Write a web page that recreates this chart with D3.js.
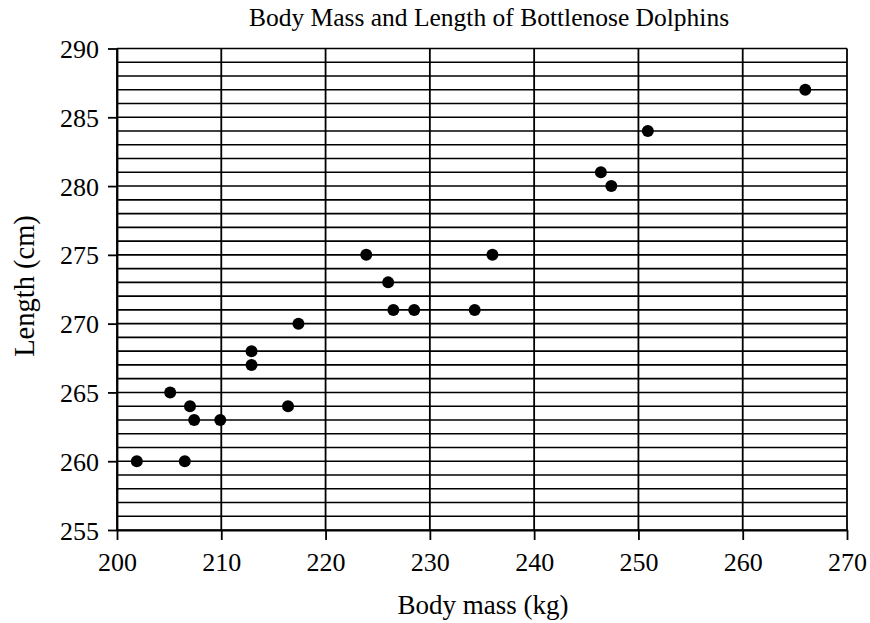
<!DOCTYPE html>
<html>
<head>
<meta charset="utf-8">
<script src="https://cdn.jsdelivr.net/npm/d3@7"></script>
<style>
  html, body { margin: 0; padding: 0; background: #fff; }
  svg { display: block; }
  text { font-family: "Liberation Serif", "DejaVu Serif", serif; fill: #000; }
</style>
</head>
<body>
<svg id="chart" width="870" height="623"></svg>
<script>
// Body mass (kg) and length (cm) of each dolphin
const massKg = [201.9, 206.5, 205.1, 207.0, 207.4, 209.9, 212.9, 212.9, 216.4, 217.4,
                223.9, 226.0, 226.5, 228.5, 234.3, 236.0, 246.4, 247.4, 250.9, 266.0];
const lengthCm = [260, 260, 265, 264, 263, 263, 268, 267, 264, 270,
                  275, 273, 271, 271, 271, 275, 281, 280, 284, 287];
const xTicks = [200, 210, 220, 230, 240, 250, 260, 270];
const yTicks = [255, 260, 265, 270, 275, 280, 285, 290];

const svg = d3.select("#chart");
const plot = { left: 117, right: 847, top: 48.5, bottom: 530 };
const serif = "'Liberation Serif', 'DejaVu Serif', serif";

const x = d3.scaleLinear().domain([200, 270]).range([plot.left, plot.right]);
const y = d3.scaleLinear().domain([255, 290]).range([plot.bottom, plot.top]);

// Horizontal grid: one line per centimetre
svg.append("g").selectAll("line")
  .data(d3.range(255, 291, 1))
  .join("line")
  .attr("x1", plot.left).attr("x2", plot.right)
  .attr("y1", d => y(d)).attr("y2", d => y(d))
  .attr("stroke", "#000").attr("stroke-width", 1.6);

// Vertical grid: one line per 10 kg
svg.append("g").selectAll("line")
  .data(xTicks)
  .join("line")
  .attr("x1", d => x(d)).attr("x2", d => x(d))
  .attr("y1", plot.top).attr("y2", plot.bottom)
  .attr("stroke", "#000").attr("stroke-width", 1.8);

// Axes with outward ticks
const xAxis = svg.append("g")
  .attr("transform", `translate(0,${plot.bottom})`)
  .call(d3.axisBottom(x).tickValues(xTicks).tickSize(10).tickPadding(13).tickSizeOuter(0));
const yAxis = svg.append("g")
  .attr("transform", `translate(${plot.left},0)`)
  .call(d3.axisLeft(y).tickValues(yTicks).tickSize(9).tickPadding(9).tickSizeOuter(0));

[xAxis, yAxis].forEach(g => {
  g.attr("font-family", serif).attr("font-size", 26);
  g.select(".domain").attr("stroke", "#000").attr("stroke-width", 1.8);
  g.selectAll(".tick line").attr("stroke", "#000").attr("stroke-width", 1.8);
  g.selectAll(".tick text").attr("fill", "#000");
});
yAxis.selectAll(".tick text").attr("dy", "0.35em");

// Data points
svg.append("g").selectAll("circle")
  .data(massKg.map((m, i) => [m, lengthCm[i]]))
  .join("circle")
  .attr("cx", d => x(d[0]))
  .attr("cy", d => y(d[1]))
  .attr("r", 6)
  .attr("fill", "#000");

// Title and axis labels
svg.append("text")
  .attr("x", 489).attr("y", 26)
  .attr("text-anchor", "middle").attr("font-size", 25.5)
  .text("Body Mass and Length of Bottlenose Dolphins");

svg.append("text")
  .attr("x", 483).attr("y", 614)
  .attr("text-anchor", "middle").attr("font-size", 27)
  .text("Body mass (kg)");

svg.append("text")
  .attr("transform", `translate(34,286) rotate(-90)`)
  .attr("text-anchor", "middle").attr("font-size", 28.5)
  .text("Length (cm)");
</script>
</body>
</html>
